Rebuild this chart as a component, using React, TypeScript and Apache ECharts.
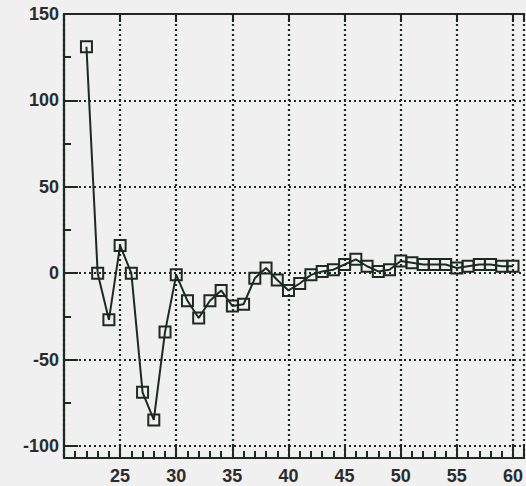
import React, { useEffect, useRef } from "react";
import * as echarts from "echarts";

const xValues = [22, 23, 24, 25, 26, 27, 28, 29, 30, 31, 32, 33, 34, 35, 36, 37, 38, 39, 40, 41, 42, 43, 44, 45, 46, 47, 48, 49, 50, 51, 52, 53, 54, 55, 56, 57, 58, 59, 60];
const yValues = [131, 0, -27, 16, 0, -69, -85, -34, -1, -16, -26, -16, -10, -19, -18, -3, 3, -4, -10, -6, -1, 1, 2, 5, 8, 4, 1, 2, 7, 6, 5, 5, 5, 3, 4, 5, 5, 4, 4];

const DARK = "#1c2a22";
const BG = "#f0f0f0";

export default function App() {
  const ref = useRef<HTMLDivElement>(null);
  useEffect(() => {
    if (!ref.current) return;
    const chart = echarts.init(ref.current, null, { renderer: "svg" });
    const labelStyle = {
      color: "#2b2b2b",
      fontFamily: "Liberation Sans, Arial, sans-serif",
      fontSize: 18,
      fontWeight: "bold" as const,
    };
    const gridLine = { show: true, lineStyle: { color: DARK, width: 2.2, type: [2, 3] as number[] } };
    chart.setOption({
      animation: false,
      backgroundColor: BG,
      grid: { left: 64, right: -6, top: 14, bottom: 28, containLabel: false },
      xAxis: [
        {
          type: "value",
          min: 20,
          max: 61,
          interval: 5,
          axisLine: { show: true, onZero: false, lineStyle: { color: DARK, width: 2.2 } },
          axisTick: { show: true, inside: true, length: 14, lineStyle: { color: DARK, width: 2 } },
          minorTick: { show: true, splitNumber: 5, length: 7, lineStyle: { color: DARK, width: 2 } },
          axisLabel: { ...labelStyle, margin: 9, showMinLabel: false, showMaxLabel: false },
          splitLine: gridLine,
        },
        {
          type: "value",
          position: "top",
          min: 20,
          max: 61,
          interval: 5,
          axisLine: { show: true, onZero: false, lineStyle: { color: DARK, width: 2.2 } },
          axisTick: { show: true, inside: true, length: 8, lineStyle: { color: DARK, width: 2 } },
          axisLabel: { show: false },
          splitLine: { show: false },
        },
      ],
      yAxis: [
        {
          type: "value",
          min: -107,
          max: 150,
          splitNumber: 5,
          axisLine: { show: true, onZero: false, lineStyle: { color: DARK, width: 2.2 } },
          axisTick: { show: true, inside: true, length: 14, lineStyle: { color: DARK, width: 2 } },
          minorTick: { show: true, splitNumber: 2, length: 7, lineStyle: { color: DARK, width: 2 } },
          axisLabel: { ...labelStyle, margin: 5, showMinLabel: false },
          splitLine: gridLine,
        },
      ],
      series: [
        {
          type: "line",
          data: xValues.map((x, i) => [x, yValues[i]]),
          symbol: "rect",
          symbolSize: 11,
          showAllSymbol: true,
          lineStyle: { color: DARK, width: 2 },
          itemStyle: { color: "rgba(0,0,0,0)", borderColor: DARK, borderWidth: 2 },
          z: 5,
        },
      ],
    });
    return () => chart.dispose();
  }, []);
  return <div ref={ref} style={{ position: "fixed", left: 0, top: 0, width: 526, height: 486 }} />;
}
